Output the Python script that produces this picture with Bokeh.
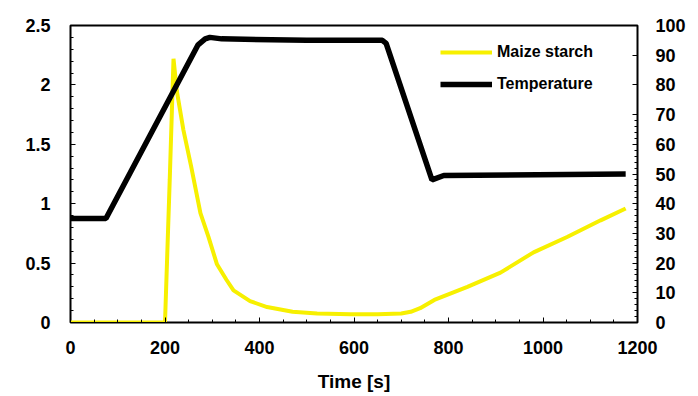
from bokeh.plotting import figure
from bokeh.models import Range1d, LinearAxis, Legend, LegendItem, FixedTicker
from bokeh.embed import file_html
from bokeh.resources import INLINE

# Maize starch viscosity (left axis)
time_starch = [0, 195, 200, 210, 218, 225, 239, 255, 275, 292, 310, 330, 345, 380, 416, 470, 522, 593, 650, 700, 720, 740, 770, 840, 910, 980, 1051, 1122, 1175]
starch = [0, 0, 0.0, 1.2, 2.22, 1.95, 1.62, 1.32, 0.92, 0.72, 0.49, 0.36, 0.27, 0.18, 0.13, 0.09, 0.076, 0.07, 0.07, 0.075, 0.09, 0.12, 0.19, 0.30, 0.42, 0.59, 0.72, 0.86, 0.96]

# Temperature (right axis)
time_temp = [0, 75, 270, 285, 295, 320, 500, 660, 668, 765, 790, 1175]
temp = [35, 35, 93.5, 95.5, 96, 95.5, 95, 95, 94, 48, 49.5, 50]

x_ticks = [0, 200, 400, 600, 800, 1000, 1200]
left_ticks = [0, 0.5, 1, 1.5, 2, 2.5]
right_ticks = [0, 10, 20, 30, 40, 50, 60, 70, 80, 90, 100]

FONT = "Liberation Sans"

p = figure(width=690, height=394, output_backend="svg", toolbar_location=None,
           x_range=Range1d(0, 1200), y_range=Range1d(0, 2.5),
           min_border_left=70, min_border_right=53, min_border_top=25, min_border_bottom=72)
p.extra_y_ranges = {"temp": Range1d(0, 100)}
p.grid.visible = False
p.outline_line_color = "black"
p.outline_line_width = 2
p.background_fill_color = "white"
p.border_fill_color = "white"


def style(ax, standoff):
    ax.major_label_text_font = FONT
    ax.major_label_text_font_style = "bold"
    ax.major_label_text_font_size = "18px"
    ax.major_label_text_color = "black"
    ax.major_tick_in = 5
    ax.major_tick_out = 0
    ax.minor_tick_in = 3
    ax.minor_tick_out = 0
    ax.axis_line_color = "black"
    ax.major_tick_line_color = "black"
    ax.minor_tick_line_color = "black"
    ax.major_label_standoff = standoff


style(p.xaxis[0], 18)
style(p.yaxis[0], 20)
p.xaxis[0].ticker = FixedTicker(ticks=x_ticks, minor_ticks=list(range(0, 1201, 50)))
p.yaxis[0].ticker = FixedTicker(ticks=left_ticks, minor_ticks=[i * 0.1 for i in range(26)])
p.xaxis[0].axis_label = "Time [s]"
p.xaxis[0].axis_label_text_font = FONT
p.xaxis[0].axis_label_text_font_style = "bold"
p.xaxis[0].axis_label_text_font_size = "19px"
p.xaxis[0].axis_label_text_color = "black"
p.xaxis[0].axis_label_standoff = 14

rax = LinearAxis(y_range_name="temp", ticker=FixedTicker(ticks=right_ticks, minor_ticks=list(range(0, 71, 2))))
style(rax, 18)
p.add_layout(rax, "right")

r1 = p.line(time_starch, starch, line_color="#F7F000", line_width=4)
r2 = p.line(time_temp, temp, y_range_name="temp", line_color="black", line_width=5.5)

legend = Legend(items=[LegendItem(label="Maize starch", renderers=[r1]),
                       LegendItem(label="Temperature", renderers=[r2])],
                location=(370, 228), glyph_width=52, glyph_height=20, label_height=20,
                spacing=12, padding=5, margin=0,
                label_text_font=FONT, label_text_font_size="16px", label_text_font_style="bold",
                label_text_color="black",
                border_line_color=None, background_fill_alpha=0)
p.add_layout(legend)

open("out.html", "w").write(file_html(p, INLINE))
